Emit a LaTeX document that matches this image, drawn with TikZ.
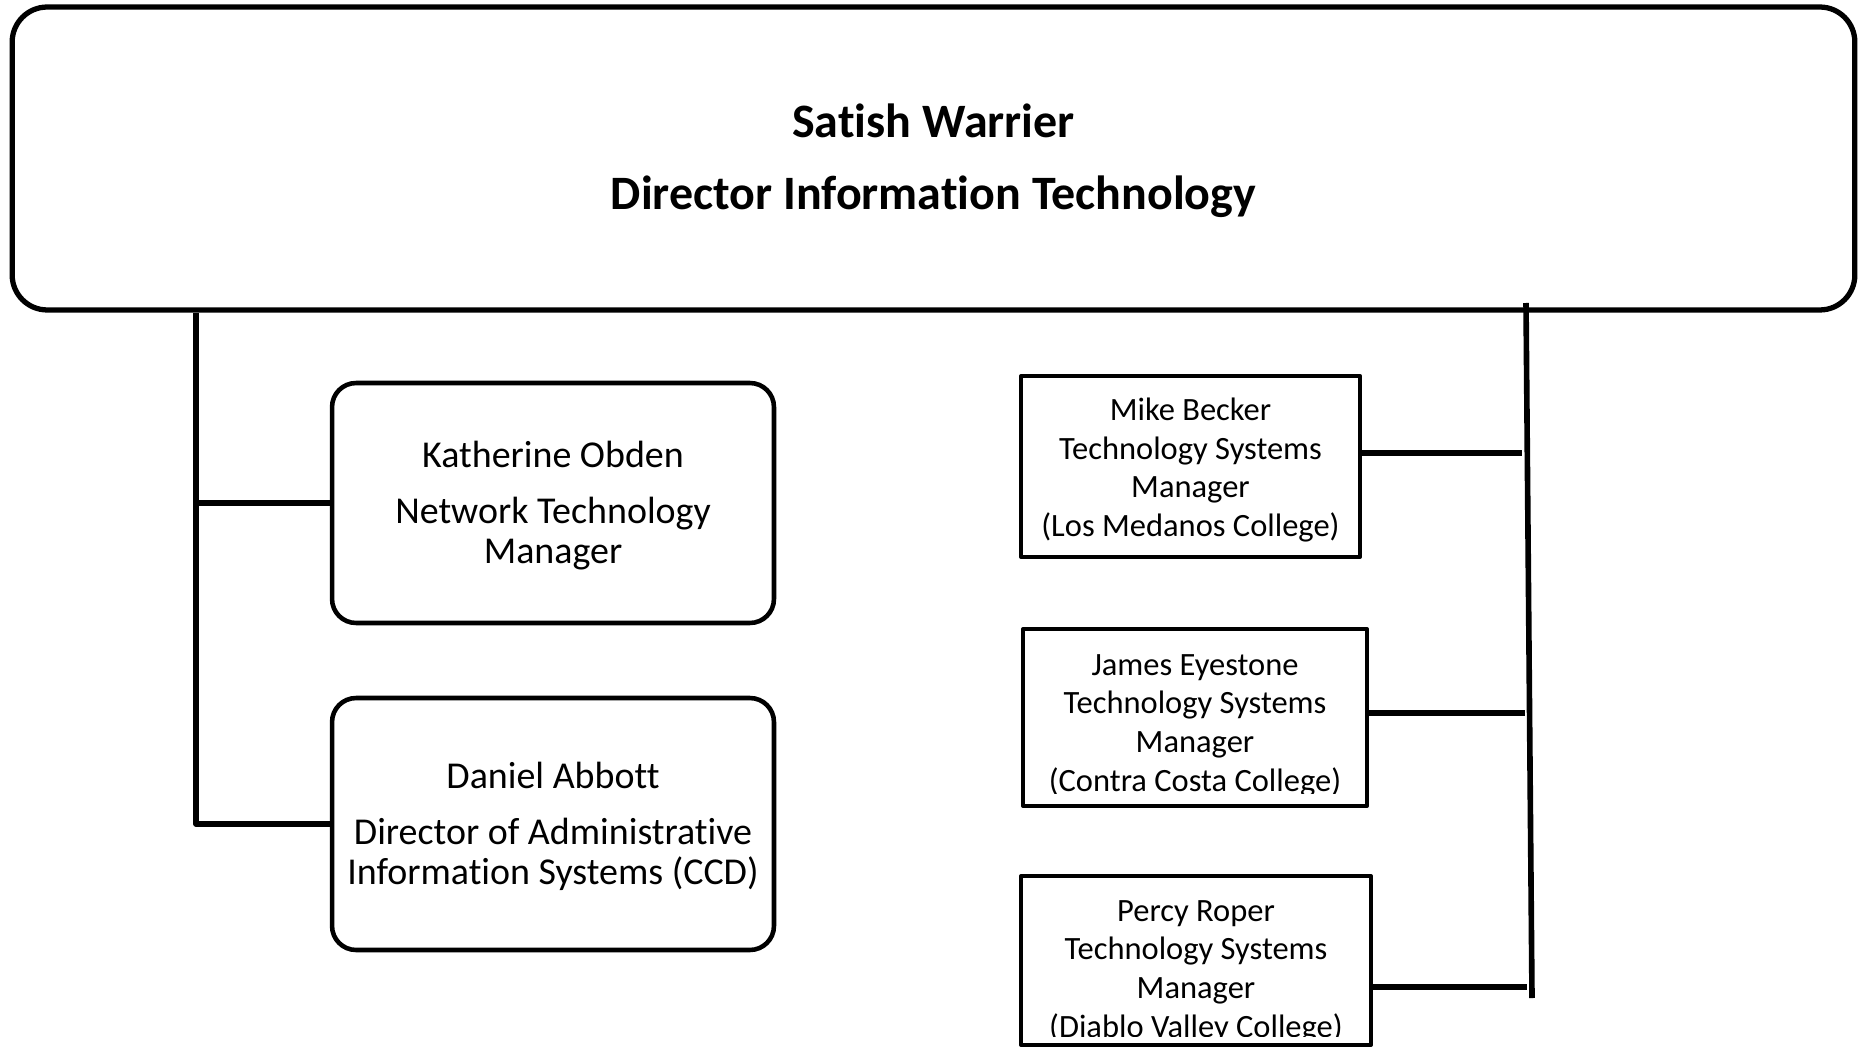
\documentclass[tikz,border=0pt]{standalone}
\usepackage{fontspec}
\setmainfont{Carlito}[Ligatures=NoCommon]
\begin{document}
\begin{tikzpicture}[x=0.02cm,y=-0.02cm,line join=round,
	head/.style={draw,rounded corners=0.7cm,line width=3pt,minimum width=36.86cm,
		minimum height=6.06cm},
	headtxt/.style={align=center,inner sep=0,font=\bfseries\fontsize{27.3}{41}\selectfont},
	mgr/.style={draw,rounded corners=0.48cm,line width=2.6pt,minimum width=8.84cm},
	mgrtxt/.style={align=center,inner sep=0,font=\fontsize{21.6}{23}\selectfont},
	tsm/.style={draw,line width=2.4pt},
	txt/.style={align=center,inner sep=0,font=\fontsize{18.5}{22}\selectfont},
	link/.style={line width=3.2pt}]
	\useasboundingbox (0,0) rectangle (1858,1047);
	\node[head](d) at (933.5,158.5){};
	\node[headtxt] at ([yshift=-0.05cm]d.center){Satish Warrier\\Director Information Technology};
	\node[mgr,minimum height=4.8cm](kat) at (553,503){};
	\node[mgrtxt] at ([yshift=-0.05cm]kat.center){Katherine Obden\\[9pt]Network Technology\\Manager};
	\node[mgr,minimum height=5.04cm](dan) at (553,824){};
	\node[mgrtxt] at ([yshift=-0.05cm]dan.center){Daniel Abbott\\[9pt]Director of Administrative\\Information Systems (CCD)};
	\node[tsm,minimum width=6.78cm,minimum height=3.62cm](m) at (1190.5,466.5){};
	\node[tsm,minimum width=6.88cm,minimum height=3.54cm](j) at (1195,717.5){};
	\node[tsm,minimum width=7cm,minimum height=3.38cm](p) at (1196,960.5){};
	\node[txt] at ([yshift=-0.07cm]m.center){Mike Becker\\Technology Systems\\Manager\\(Los Medanos College)};
	\begin{scope}
		\clip (j.north west) rectangle ([yshift=0.3cm]j.south east);
		\node[txt] at ([yshift=-0.16cm]j.center){James Eyestone\\Technology Systems\\Manager\\(Contra Costa College)};
	\end{scope}
	\begin{scope}
		\clip (p.north west) rectangle ([yshift=0.22cm]p.south east);
		\node[txt] at ([yshift=-0.22cm]p.center){Percy Roper\\Technology Systems\\Manager\\(Diablo Valley College)};
	\end{scope}
	% bus lines
	\coordinate (bl) at (196,0);
	\coordinate (rt) at (1526,303);
	\coordinate (rb) at (1532,998);
	\path (1522,453) coordinate (rm) (1525,713) coordinate (rj) (1527,987) coordinate (rp);
	\draw[link] (bl |- d.south) |- (dan.west);
	\draw[link] (bl |- kat.west) -- (kat.west);
	\draw[link] (rt) -- (rb);
	\draw[link] (m.east |- rm) -- (rm);
	\draw[link] (j.east |- rj) -- (rj);
	\draw[link] (p.east |- rp) -- (rp);
\end{tikzpicture}
\end{document}
